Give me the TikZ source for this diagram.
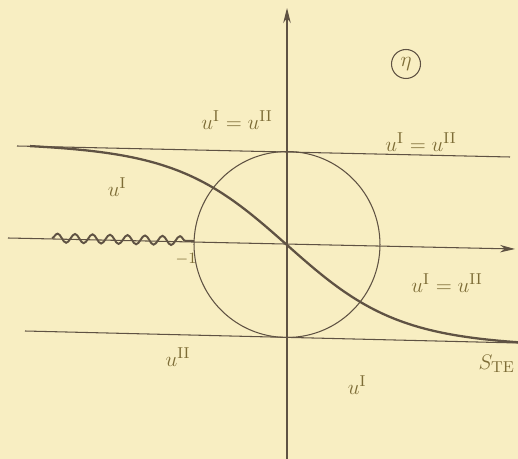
\documentclass[tikz,border=0pt]{standalone}
\usepackage{amsmath}
\usetikzlibrary{arrows.meta,decorations.pathmorphing}
\definecolor{paperbg}{HTML}{F8EEC2}
\definecolor{pencilink}{HTML}{5F5243}
\definecolor{labelink}{HTML}{7D6C36}

\begin{document}
\begin{tikzpicture}[x=0.02cm,y=-0.02cm,font=\fontsize{13}{15}\selectfont,
 ar/.style={-{Stealth[length=3mm,width=1.5mm]},draw=pencilink,line width=.6pt},
 ln/.style={draw=pencilink,line width=.6pt},
 lab/.style={text=labelink,inner sep=1pt}]
\useasboundingbox (0,0) rectangle (518,459);
\clip (0,0) rectangle (518,459);
\fill[paperbg] (0,0) rectangle (518,459);
\draw[ar] (287,459) -- (287,8);
\draw[ar] (8,238) -- (515,249);
\draw[ln] (17,146) -- (510,157);
\draw[ln] (25,331) -- (518,343);
\draw[ln] (287,244.5) circle[radius=1.86cm];
\draw[ln,line width=1.1pt,decorate,decoration={snake,amplitude=.9mm,segment length=3.5mm}] (52,238) -- (194,241);
\draw[pencilink,line width=1.3pt] plot[domain=30:518,samples=90,smooth] (\x,{245+0.022*(\x-287)-95*tanh((287-\x)/110)});
\node[lab] (minusone) at (186,259) {\small$-1$};
\node[lab,draw=pencilink,circle,line width=.6pt,minimum size=.58cm,inner sep=0pt] (eta) at (406,64) {$\eta$};
\node[lab] (topmid) at (237,120) {$u^{\mathrm{I}}=u^{\mathrm{II}}$};
\node[lab] (topright) at (421,142) {$u^{\mathrm{I}}=u^{\mathrm{II}}$};
\node[lab] (leftone) at (117,187) {$u^{\mathrm{I}}$};
\node[lab] (rightmid) at (447,283) {$u^{\mathrm{I}}=u^{\mathrm{II}}$};
\node[lab] (bottwo) at (178,357) {$u^{\mathrm{II}}$};
\node[lab] (botone) at (357,385) {$u^{\mathrm{I}}$};
\node[lab,anchor=east] (trailing) at (517,364) {$S_{\mathrm{TE}}$};
\end{tikzpicture}
\end{document}
